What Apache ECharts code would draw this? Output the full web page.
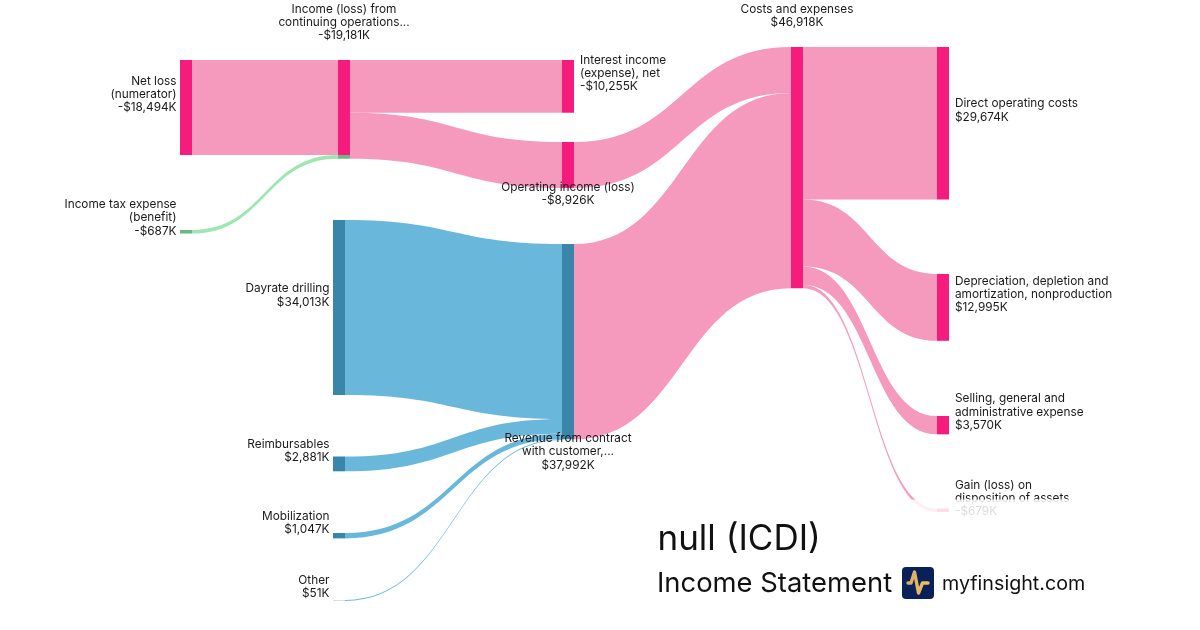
<!DOCTYPE html>
<html>
<head>
<meta charset="utf-8">
<style>html,body{margin:0;padding:0;background:#fff}#c{width:1200px;height:630px}</style>
<script src="https://cdn.jsdelivr.net/npm/echarts@6/dist/echarts.min.js"></script>
</head>
<body>
<div id="c"></div>
<script>
var nodeNames = ['Net loss\n(numerator)','Income tax expense\n(benefit)','Dayrate drilling','Reimbursables','Mobilization','Other',
  'Income (loss) from\ncontinuing operations...','Revenue from contract\nwith customer,...',
  'Interest income\n(expense), net','Operating income (loss)','Costs and expenses',
  'Direct operating costs','Depreciation, depletion and\namortization, nonproduction','Selling, general and\nadministrative expense','Gain (loss) on\ndisposition of assets'];
var nodeAmounts = [-18494,-687,34013,2881,1047,51,-19181,37992,-10255,-8926,46918,29674,12995,3570,-679];
var nodeGroups = ['pink','green','blue','blue','blue','blue','pink','blue','pink','pink','pink','pink','pink','pink','pink'];

var linkSources = [0,1,2,3,4,5,6,6,9,7,10,10,10,10];
var linkTargets = [6,6,7,7,7,7,8,9,10,10,11,12,13,14];
var linkValues  = [18494,687,34013,2881,1047,51,10255,8926,8926,37992,29674,12995,3570,679];
var linkGroups  = ['pink','green','blue','blue','blue','blue','pink','pink','pink','pink','pink','pink','pink','pink'];

// layout of the nodes on the page, separate from the data
var nodeX = [180,180,333,333,333,333,338,562,562,562,791,937,937,937,937];
var nodeY = [60,230,220,456.5,533,600,60,244,60,142,47,47,274,416,508.5];
var labelPos = ['left','left','left','left','left','left','top','bottom','right','bottom','top','right','right','right','right'];
var labelOff = [[0,-13],[0,-14],[0,-12],[0,-13],[0,-13],[0,-13],[0,-14],[0,-11],[0,-13],[0,-11],[0,-14],[0,-13],[0,-13],[0,-13],[0,-12]];
var W = 1200, H = 630;
var nodeColors = {pink:'#f51c7d', blue:'#3a85aa', green:'#6ab984'};
var linkColors = {pink:'#f59abd', blue:'#6ab7dc', green:'#9ee6b1'};

function money(v){
  var s = Math.abs(v).toString().replace(/\B(?=(\d{3})+$)/g, ',');
  return (v < 0 ? '-' : '') + '$' + s + 'K';
}

// a node is painted in the colours of the flows that enter it, stacked in order
function nodeFill(i){
  var base = nodeColors[nodeGroups[i]], stops = [], sum = 0, total = 0, changed = false;
  linkTargets.forEach(function(t,k){ if(t===i) total += linkValues[k]; });
  linkTargets.forEach(function(t,k){
    if(t!==i) return;
    var c = nodeColors[linkGroups[k]];
    if(linkGroups[k]!==nodeGroups[i]) changed = true;
    stops.push({offset:sum/total,color:c});
    sum += linkValues[k];
    stops.push({offset:sum/total,color:c});
  });
  if(!changed) return base;
  return new echarts.graphic.LinearGradient(0,0,0,1,stops);
}

var nodes = nodeNames.map(function(n,i){
  var pos = labelPos[i];
  return {
    name:n, localX:nodeX[i]/W, localY:nodeY[i]/H,
    itemStyle:{color:nodeFill(i), opacity:1, borderWidth:0},
    label:{
      position:pos, offset:labelOff[i], distance:pos==='right'?6:3.5,
      align:pos==='left'?'right':pos==='right'?'left':'center',
      formatter:nodeNames[i]+'\n'+money(nodeAmounts[i])
    }
  };
});
var links = linkValues.map(function(v,i){
  return {
    source:nodeNames[linkSources[i]], target:nodeNames[linkTargets[i]], value:v,
    lineStyle:{color:linkColors[linkGroups[i]], opacity:1, curveness:0.5}
  };
});

var chart = echarts.init(document.getElementById('c'), null, {renderer:'canvas'});
chart.setOption({
  animation:false,
  backgroundColor:'#fff',
  tooltip:{show:false},
  series:[{
    type:'sankey',
    left:0, top:0, width:W, height:H,
    nodeWidth:12, nodeGap:67.2,
    layoutIterations:0,
    nodeAlign:'left',
    draggable:false,
    silent:true,
    emphasis:{disabled:true},
    label:{show:true,color:'#1a1a1a',fontFamily:'Inter',fontSize:11.8,lineHeight:13.3},
    data:nodes,
    links:links
  }],
  graphic:[
    {type:'rect',z:100,shape:{x:650,y:499.5,width:470,height:130.5},style:{fill:'rgba(255,255,255,0.84)'},silent:true},
    {type:'text',z:101,x:657.5,y:539.5,style:{text:'null (ICDI)',fontFamily:'Inter',fontSize:35,fill:'#111',verticalAlign:'middle'}},
    {type:'text',z:101,x:657,y:584,style:{text:'Income Statement',fontFamily:'Inter',fontSize:27.4,fill:'#111',verticalAlign:'middle'}},
    {type:'rect',z:101,shape:{x:902,y:567,width:32,height:32,r:4},style:{fill:'#0a2058'}},
    {type:'polyline',z:102,shape:{points:[[908,583],[911,583],[914.5,572],[918.5,593],[922.5,583],[928,583]]},
      style:{fill:'none',lineWidth:3.4,lineJoin:'round',lineCap:'round',stroke:new echarts.graphic.LinearGradient(0,0,1,0,[{offset:0,color:'#d9a868'},{offset:1,color:'#f2c55c'}])}},
    {type:'text',z:101,x:942,y:584,style:{text:'myfinsight.com',fontFamily:'Inter',fontSize:19.7,fill:'#111',verticalAlign:'middle'}}
  ]
});
</script>
</body>
</html>
